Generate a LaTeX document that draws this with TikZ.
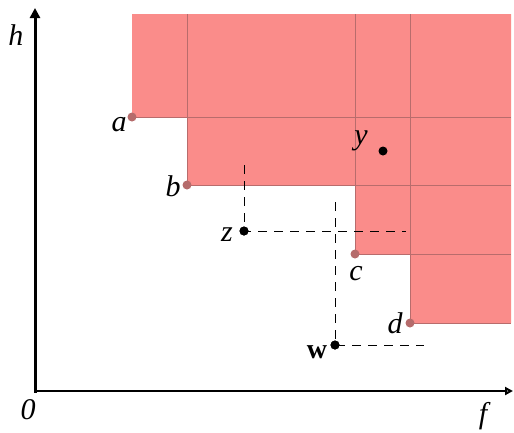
\documentclass[tikz,border=0pt]{standalone}
\usepackage{fontspec}
\setmainfont{Liberation Serif}
\usetikzlibrary{arrows.meta}
\definecolor{regfill}{HTML}{FA8C8A}
\definecolor{gridc}{HTML}{B86C6C}
\definecolor{cornerc}{HTML}{B56B6B}
\tikzset{
  lbl/.style={inner sep=0pt, font=\fontsize{30}{30}\selectfont\itshape},
  corner/.style={circle, fill=cornerc, inner sep=0pt, minimum size=9pt},
  pt/.style={circle, fill=black, inner sep=0pt, minimum size=9pt},
  grid line/.style={draw=gridc, line width=0.9pt},
  guide/.style={draw=black, line width=0.9pt, dash pattern=on 9pt off 7pt},
}
\begin{document}
\begin{tikzpicture}[x=1pt, y=-1pt]
\useasboundingbox (0,0) rectangle (514,432);
% region
\fill[regfill] (132,14) -- (511,14) -- (511,323) -- (410,323) -- (410,254) -- (355,254) -- (355,185) -- (187,185) -- (187,117) -- (132,117) -- cycle;
\draw[grid line] (132,117) -- (511,117);
\draw[grid line] (187,185) -- (511,185);
\draw[grid line] (355,254) -- (511,254);
\draw[grid line] (410,323) -- (511,323);
\draw[grid line] (187,14) -- (187,185);
\draw[grid line] (355,14) -- (355,254);
\draw[grid line] (410,14) -- (410,323);
% corners
\node[corner] (a) at (132,117) {};
\node[corner] (b) at (187,185) {};
\node[corner] (c) at (355,254) {};
\node[corner] (d) at (410,323) {};
\node[lbl] (la) at (119,125) {a};
\node[lbl] (lb) at (173,186) {b};
\node[lbl] (lc) at (356,274) {c};
\node[lbl] (ld) at (395,323) {d};
% points
\node[pt] (y) at (383,151) {};
\node[lbl] (ly) at (361,141) {y};
\node[pt] (z) at (244,231) {};
\node[lbl] (lz) at (227,235) {z};
\node[pt] (w) at (335,345) {};
\node[inner sep=0pt, font=\fontsize{28}{28}\selectfont\bfseries] (lw) at (317,352) {w};
% guides
\coordinate (zt) at (244,165);
\coordinate (zr) at (406,231);
\coordinate (wt) at (335,202);
\coordinate (wr) at (424,345);
\draw[guide] (zt) -- (z.center) -- (zr);
\draw[guide] (wt) -- (w.center) -- (wr);
\node[pt] at (z) {};
\node[pt] at (w) {};
% axes
\coordinate (o) at (35,391);
\coordinate (ytop) at (35,8);
\coordinate (xend) at (513,391);
\draw[line width=3pt, -{Triangle[length=10pt,width=10pt]}] (35,392.5) -- (ytop);
\draw[line width=2pt, -{Triangle[length=8pt,width=8pt,open]}] (o) -- (xend);
\node[lbl] (lh) at (16,35) {h};
\node[lbl] (l0) at (28,410) {0};
\node[lbl] (lf) at (483,416) {f};
\end{tikzpicture}
\end{document}
